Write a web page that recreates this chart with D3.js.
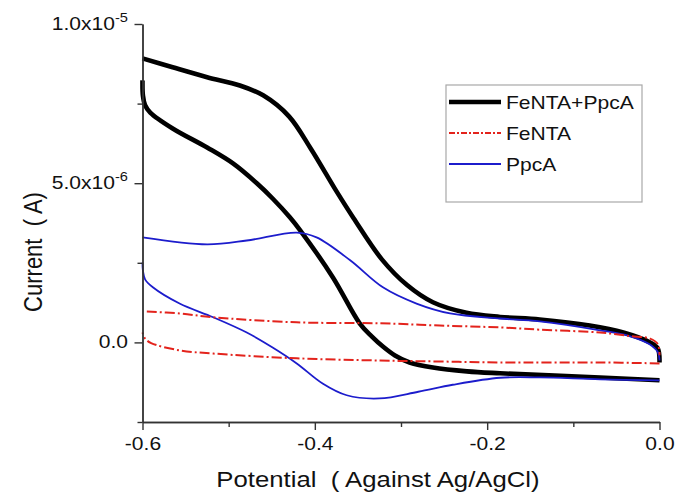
<!DOCTYPE html>
<html>
<head>
<meta charset="utf-8">
<script src="https://cdn.jsdelivr.net/npm/d3@7"></script>
<style>
  html, body { margin: 0; padding: 0; background: #fff; }
  svg { display: block; }
  text { font-family: "Liberation Sans", Arial, sans-serif; fill: #111; }
</style>
</head>
<body>
<svg id="chart" width="675" height="494"></svg>
<script>
// ---- data (potential in V, current in units of 1e-6 A) ----
const seriesNames = ["FeNTA+PpcA", "FeNTA", "PpcA"];

const blackUpperV = [-0.6, -0.565, -0.525, -0.487, -0.46, -0.43, -0.405, -0.375, -0.355, -0.322, -0.293, -0.263, -0.224, -0.185, -0.139, -0.081, -0.042, -0.011, -0.002, 0];
const blackUpperI = [8.92, 8.64, 8.33, 8.07, 7.76, 7.10, 6.10, 4.75, 3.90, 2.60, 1.80, 1.26, 0.93, 0.80, 0.72, 0.53, 0.31, 0.0, -0.19, -0.63];
const blackLowerV = [0, -0.069, -0.185, -0.2235, -0.263, -0.29, -0.307, -0.321, -0.334, -0.348, -0.379, -0.417, -0.429, -0.449, -0.467, -0.495, -0.525, -0.565, -0.591, -0.597, -0.5995, -0.6];
const blackLowerI = [-1.19, -1.10, -0.97, -0.91, -0.79, -0.63, -0.41, -0.13, 0.19, 0.60, 2.04, 3.52, 3.93, 4.52, 4.99, 5.62, 6.12, 6.72, 7.22, 7.45, 7.75, 8.23];

const redUpperV = [-0.595, -0.557, -0.518, -0.421, -0.324, -0.255, -0.185, -0.139, -0.069, -0.034, -0.011, -0.002, 0];
const redUpperI = [0.97, 0.91, 0.79, 0.63, 0.60, 0.53, 0.47, 0.40, 0.31, 0.20, 0.12, -0.05, -0.40];
const redLowerV = [0, -0.069, -0.185, -0.255, -0.324, -0.421, -0.518, -0.557, -0.59, -0.597, -0.6];
const redLowerI = [-0.66, -0.63, -0.63, -0.60, -0.57, -0.50, -0.35, -0.25, -0.02, 0.12, 0.31];

const blueUpperV = [-0.6, -0.525, -0.479, -0.421, -0.398, -0.359, -0.321, -0.282, -0.243, -0.185, -0.139, -0.069, -0.035, -0.012, -0.002, 0];
const blueUpperI = [3.30, 3.08, 3.20, 3.45, 3.30, 2.58, 1.73, 1.22, 0.91, 0.75, 0.66, 0.38, 0.20, -0.05, -0.30, -0.57];
const blueLowerV = [0, -0.069, -0.139, -0.185, -0.24, -0.28, -0.325, -0.363, -0.391, -0.421, -0.449, -0.479, -0.518, -0.557, -0.588, -0.597, -0.5995, -0.6];
const blueLowerI = [-1.19, -1.16, -1.10, -1.11, -1.33, -1.55, -1.76, -1.66, -1.29, -0.66, -0.16, 0.31, 0.79, 1.22, 1.73, 1.98, 2.25, 2.51];

const xMajorTicks = [-0.6, -0.4, -0.2, 0.0];
const xMinorTicks = [-0.5, -0.3, -0.1];
const xTickLabels = ["-0.6", "-0.4", "-0.2", "0.0"];
const yMajorTicks = [10, 5, 0];
const yMinorTicks = [7.5, 2.5, -2.5];
const yTickMant = ["1.0x10", "5.0x10", "0.0"];
const yTickExp = ["-5", "-6", ""];
const UNIT = 1e-6;

const xTitle = "Potential\u00a0\u00a0( Against Ag/AgCl)";
const yTitle = "Current\u00a0\u00a0( A)";

// ---- layout ----
const W = 675, H = 494;
const plotLeft = 142.5, plotRight = 659.5, plotTop = 24, plotBottom = 422;
const SX = 1.17; // horizontal stretch of the original text

const svg = d3.select("#chart");
const x = d3.scaleLinear().domain([-0.6, 0]).range([plotLeft, plotRight]);
const y = d3.scaleLinear().domain([-2.5 * UNIT, 10 * UNIT]).range([plotBottom, plotTop]);

const zip = (vs, is) => vs.map((v, k) => [v, is[k] * UNIT]);
const line = d3.line().x(d => x(d[0])).y(d => y(d[1])).curve(d3.curveCatmullRom.alpha(0.5));

const styles = {
  "FeNTA+PpcA": { stroke: "#000", width: 4.6, dash: null },
  "FeNTA": { stroke: "#e3231c", width: 2, dash: "10,3,2,3" },
  "PpcA": { stroke: "#1c1ccc", width: 1.8, dash: null }
};

const paths = [
  ["FeNTA+PpcA", zip(blackUpperV, blackUpperI)],
  ["FeNTA+PpcA", zip(blackLowerV, blackLowerI)],
  ["PpcA", zip(blueUpperV, blueUpperI)],
  ["PpcA", zip(blueLowerV, blueLowerI)],
  ["FeNTA", zip(redUpperV, redUpperI)],
  ["FeNTA", zip(redLowerV, redLowerI)]
];

const gLines = svg.append("g");
paths.forEach(([name, pts]) => {
  const s = styles[name];
  gLines.append("path")
    .datum(pts)
    .attr("d", line)
    .attr("fill", "none")
    .attr("stroke", s.stroke)
    .attr("stroke-width", s.width)
    .attr("stroke-linejoin", "round")
    .attr("stroke-dasharray", s.dash);
});

// ---- axes ----
const axisColor = "#333";
const gx = svg.append("g").attr("transform", `translate(0,${plotBottom})`);
gx.call(d3.axisBottom(x).tickValues(xMinorTicks).tickSize(5).tickSizeOuter(0).tickFormat(""));
const gx2 = svg.append("g").attr("transform", `translate(0,${plotBottom})`);
gx2.call(d3.axisBottom(x).tickValues(xMajorTicks).tickSize(8).tickSizeOuter(0)
  .tickFormat((d, i) => xTickLabels[i]));
[gx, gx2].forEach(g => {
  g.selectAll("path.domain").attr("stroke", axisColor).attr("stroke-width", 1.4);
  g.selectAll(".tick line").attr("stroke", axisColor).attr("stroke-width", 1.4);
});
gx2.selectAll(".tick text")
  .attr("y", 28).attr("dy", null)
  .attr("transform", `scale(${SX},1)`)
  .style("font-size", "18px")
  .style("font-family", "'Liberation Sans', Arial, sans-serif")
  .attr("fill", "#111");

const gy = svg.append("g").attr("transform", `translate(${plotLeft},0)`);
gy.call(d3.axisLeft(y).tickValues(yMinorTicks.map(v => v * UNIT)).tickSize(5).tickSizeOuter(0).tickFormat(""));
const gy2 = svg.append("g").attr("transform", `translate(${plotLeft},0)`);
gy2.call(d3.axisLeft(y).tickValues(yMajorTicks.map(v => v * UNIT)).tickSize(8).tickSizeOuter(0).tickFormat(""));
[gy, gy2].forEach(g => {
  g.selectAll("path.domain").attr("stroke", axisColor).attr("stroke-width", 1.4);
  g.selectAll(".tick line").attr("stroke", axisColor).attr("stroke-width", 1.4);
  g.selectAll(".tick text").remove();
});

// y tick labels with superscripts
yMajorTicks.forEach((v, i) => {
  const t = svg.append("text")
    .attr("transform", `translate(128,${y(v * UNIT) + 6}) scale(${SX},1)`)
    .attr("text-anchor", "end")
    .style("font-size", "18px");
  t.append("tspan").text(yTickMant[i]);
  if (yTickExp[i]) {
    t.append("tspan").attr("dy", -8).style("font-size", "12.5px").text(yTickExp[i]);
  }
});

// axis titles
svg.append("text")
  .attr("transform", `translate(378,487) scale(${SX},1)`)
  .attr("text-anchor", "middle")
  .style("font-size", "22px")
  .text(xTitle);

svg.append("text")
  .attr("transform", `translate(42,252) rotate(-90) scale(1,${SX})`)
  .attr("text-anchor", "middle")
  .style("font-size", "22px")
  .text(yTitle);

// ---- legend ----
const lg = svg.append("g");
lg.append("rect")
  .attr("x", 446).attr("y", 85).attr("width", 196).attr("height", 117)
  .attr("fill", "#fff").attr("stroke", "#a8a8a8").attr("stroke-width", 1.2);
const legendY = [102, 133, 164];
seriesNames.forEach((name, i) => {
  const s = styles[name];
  lg.append("line")
    .attr("x1", 449).attr("x2", 501)
    .attr("y1", legendY[i]).attr("y2", legendY[i])
    .attr("stroke", s.stroke).attr("stroke-width", s.width)
    .attr("stroke-dasharray", s.dash ? "6,2,2,2" : null);
  lg.append("text")
    .attr("transform", `translate(506,${legendY[i] + 7}) scale(${SX},1)`)
    .style("font-size", "18px")
    .text(name);
});
</script>
</body>
</html>
